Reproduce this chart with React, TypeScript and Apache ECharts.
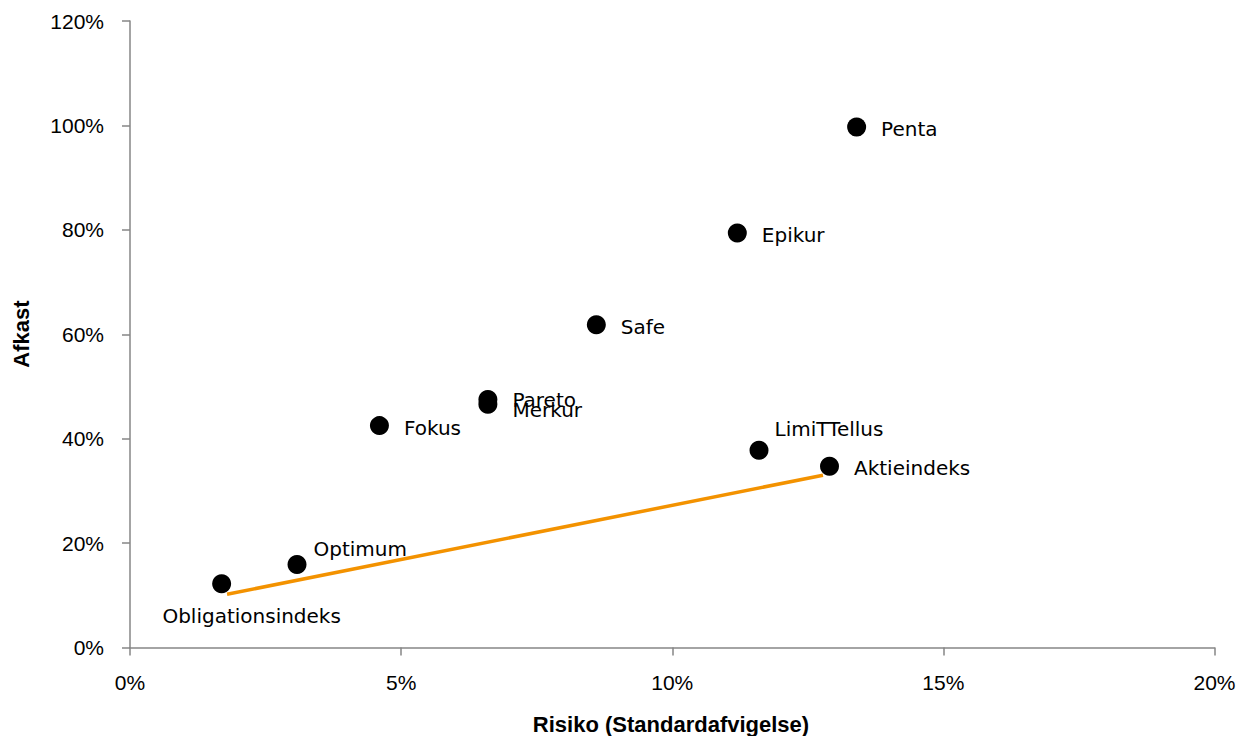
import React, { useEffect, useRef } from "react";
import * as echarts from "echarts";

const names = ["Penta", "Epikur", "Safe", "Pareto", "Merkur", "Fokus", "LimiTTellus", "Aktieindeks", "Optimum", "Obligationsindeks"];
const risk = [13.4, 11.2, 8.6, 6.6, 6.6, 4.6, 11.6, 12.9, 3.08, 1.69];
const returns = [99.7, 79.4, 61.8, 47.5, 46.6, 42.5, 37.8, 34.7, 15.9, 12.2];
const trendX = [1.79, 12.78];
const trendY = [10.2, 33.0];
const xTicks = ["0%", "5%", "10%", "15%", "20%"];

const labelPlacement: Record<string, any> = {
  Penta: { position: "right", distance: 15, offset: [0, 2] },
  Epikur: { position: "right", distance: 15, offset: [0, 2] },
  Safe: { position: "right", distance: 15, offset: [0, 2] },
  Pareto: { position: "right", distance: 15, offset: [0, 0] },
  Merkur: { position: "right", distance: 15, offset: [0, 6] },
  Fokus: { position: "right", distance: 15, offset: [0, 2] },
  LimiTTellus: { position: "right", distance: 6, offset: [0, -21] },
  Aktieindeks: { position: "right", distance: 15, offset: [0, 2] },
  Optimum: { position: "right", distance: 7, offset: [0, -15] },
  Obligationsindeks: { position: "bottom", distance: 13, offset: [30, 0] },
};

export default function App() {
  const ref = useRef<HTMLDivElement>(null);
  useEffect(() => {
    document.body.style.margin = "0";
    const chart = echarts.init(ref.current!, null, { renderer: "svg" });
    const axisColor = "#868686";
    chart.setOption({
      animation: false,
      backgroundColor: "#ffffff",
      grid: { left: 130, top: 21, right: 30.5, bottom: 88.5 },
      xAxis: {
        type: "value",
        min: 0,
        max: 20,
        interval: 5,
        axisLine: { lineStyle: { color: axisColor, width: 1.5 } },
        axisTick: { show: true, length: 8, lineStyle: { color: axisColor, width: 1.5 } },
        axisLabel: {
          margin: 24,
          color: "#000",
          fontSize: 21,
          fontFamily: "Liberation Sans",
          formatter: (v: number) => xTicks[Math.round(v / 5)] ?? v + "%",
        },
        splitLine: { show: false },
      },
      yAxis: {
        type: "value",
        min: 0,
        max: 120,
        interval: 20,
        axisLine: { show: true, lineStyle: { color: axisColor, width: 1.5 } },
        axisTick: { show: true, length: 8, lineStyle: { color: axisColor, width: 1.5 } },
        axisLabel: {
          margin: 26,
          color: "#000",
          fontSize: 21,
          fontFamily: "Liberation Sans",
          formatter: (v: number) => v + "%",
        },
        splitLine: { show: false },
      },
      graphic: [
        {
          type: "text",
          x: 671,
          y: 724,
          style: {
            text: "Risiko (Standardafvigelse)",
            font: "bold 22px 'Liberation Sans'",
            fill: "#000",
            align: "center",
            verticalAlign: "middle",
          },
        },
        {
          type: "text",
          x: 21,
          y: 334,
          rotation: Math.PI / 2,
          style: {
            text: "Afkast",
            font: "bold 22px 'Liberation Sans'",
            fill: "#000",
            align: "center",
            verticalAlign: "middle",
          },
        },
      ],
      series: [
        {
          type: "line",
          data: trendX.map((x, i) => [x, trendY[i]]),
          symbol: "none",
          lineStyle: { color: "#F39200", width: 3.5 },
          z: 1,
        },
        {
          type: "scatter",
          symbol: "circle",
          symbolSize: 19,
          itemStyle: { color: "#000", opacity: 1 },
          z: 2,
          data: names.map((n, i) => ({
            value: [risk[i], returns[i]],
            name: n,
            label: {
              show: true,
              formatter: n,
              color: "#000",
              fontSize: 20,
              fontFamily: "DejaVu Sans",
              ...labelPlacement[n],
            },
          })),
        },
      ],
    });
    return () => chart.dispose();
  }, []);
  return <div ref={ref} style={{ width: 1245, height: 736 }} />;
}
